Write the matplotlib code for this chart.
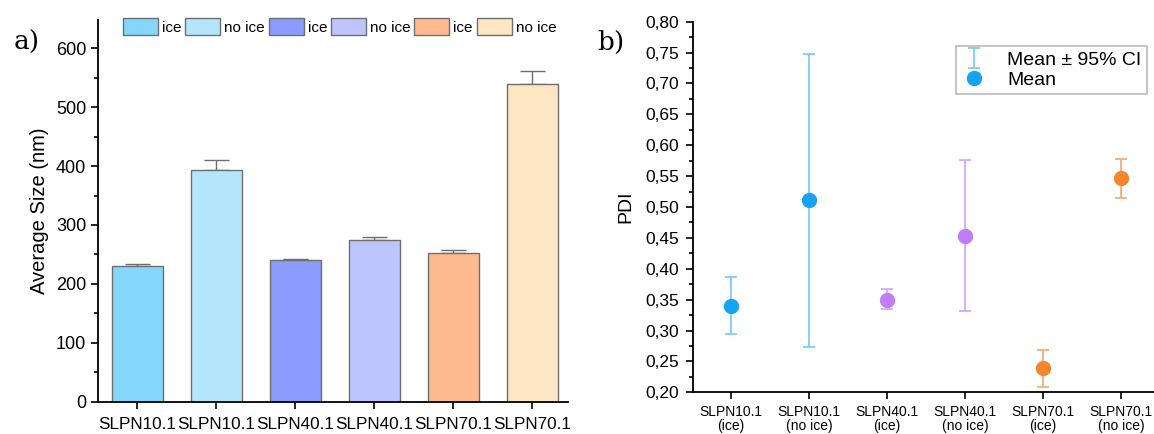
import numpy as np
import matplotlib
matplotlib.use("Agg")
import matplotlib.pyplot as plt
from matplotlib.ticker import MultipleLocator, FuncFormatter
from matplotlib.lines import Line2D
from matplotlib.patches import Patch

# --- data ---
samples = ["SLPN10.1", "SLPN10.1", "SLPN40.1", "SLPN40.1", "SLPN70.1", "SLPN70.1"]
conditions = ["ice", "no ice", "ice", "no ice", "ice", "no ice"]
size_mean = [230, 394, 241, 274, 253, 539]
size_err = [4, 16, 2, 6, 4, 23]

pdi_mean = [0.340, 0.511, 0.350, 0.453, 0.239, 0.547]
pdi_low = [0.294, 0.274, 0.335, 0.332, 0.209, 0.515]
pdi_high = [0.387, 0.748, 0.367, 0.576, 0.268, 0.578]

bar_colors = ["#84D6FD", "#B3E6FB", "#8C9BFE", "#BEC4FE", "#FDBA8F", "#FEE6C4"]
dot_colors = ["#14A4F6", "#14A4F6", "#C37CF7", "#C37CF7", "#F5862A", "#F5862A"]
err_colors = ["#7FCDF7", "#7FCDF7", "#D9A8F9", "#D9A8F9", "#F7AE78", "#F7AE78"]

plt.rcParams['font.family'] = ['Liberation Sans', 'DejaVu Sans']

fig = plt.figure(figsize=(11.54, 4.34), dpi=100)
ax1 = fig.add_axes([98 / 1154, 1 - 401.7 / 434, (568 - 98) / 1154, (401.7 - 20) / 434])
ax2 = fig.add_axes([693 / 1154, 1 - 392.3 / 434, (1154 - 693) / 1154, (392.3 - 21.7) / 434])

x = np.arange(len(samples))

# --- panel a ---
ax1.bar(x, size_mean, width=0.65, color=bar_colors, edgecolor="#6E6E6E", linewidth=1.0, zorder=2)
ax1.errorbar(x, size_mean, yerr=[np.zeros(len(x)), size_err], fmt="none",
             ecolor="#6E6E6E", elinewidth=1.0, capsize=9, capthick=1.0, zorder=1)
ax1.set_xlim(-0.5, 5.45)
ax1.set_ylim(0, 648)
ax1.yaxis.set_major_locator(MultipleLocator(100))
ax1.yaxis.set_minor_locator(MultipleLocator(50))
ax1.set_xticks(x)
ax1.set_xticklabels(samples)
ax1.set_ylabel("Average Size (nm)", fontsize=14.5, labelpad=5)
for s in ["top", "right"]:
    ax1.spines[s].set_visible(False)
for s in ["left", "bottom"]:
    ax1.spines[s].set_linewidth(1.3)
ax1.tick_params(axis="both", which="major", length=5, width=1.2, labelsize=13)
ax1.tick_params(axis="x", labelsize=12.3, pad=6)
ax1.tick_params(axis="y", which="minor", length=3, width=1.2)

handles = [Patch(facecolor=c, edgecolor="#6E6E6E", linewidth=1.0) for c in bar_colors]
ax1.legend(handles, conditions, ncol=6, loc="upper left", bbox_to_anchor=(0.04, 1.02),
           frameon=False, fontsize=11, handlelength=2.3, handleheight=1.3,
           handletextpad=0.25, columnspacing=0.25, borderaxespad=0)

fig.text(14 / 1154, 1 - 42 / 434, "a)", fontsize=19, family="DejaVu Serif", va="center")

# --- panel b ---
containers = []
for i in range(len(x)):
    c = ax2.errorbar(x[i], pdi_mean[i],
                     yerr=[[pdi_mean[i] - pdi_low[i]], [pdi_high[i] - pdi_mean[i]]],
                     fmt="none", ecolor=err_colors[i], elinewidth=1.3, capsize=4, capthick=1.3)
    containers.append(c)
    ax2.plot(x[i], pdi_mean[i], "o", color=dot_colors[i], markersize=10, zorder=3)
ax2.set_xlim(-0.49, 5.42)
ax2.set_ylim(0.20, 0.80)
ax2.yaxis.set_major_locator(MultipleLocator(0.05))
ax2.yaxis.set_minor_locator(MultipleLocator(0.025))
ax2.yaxis.set_major_formatter(FuncFormatter(lambda v, p: f"{v:.2f}".replace(".", ",")))
ax2.set_xticks(x)
ax2.set_xticklabels([f"{s}\n({c})" for s, c in zip(samples, conditions)], linespacing=1.05)
ax2.set_ylabel("PDI", fontsize=14, labelpad=8)
for s in ["top", "right"]:
    ax2.spines[s].set_visible(False)
for s in ["left", "bottom"]:
    ax2.spines[s].set_linewidth(1.3)
ax2.tick_params(axis="both", which="major", length=5, width=1.2, labelsize=12.5)
ax2.tick_params(axis="y", pad=5)
ax2.tick_params(axis="x", labelsize=10, pad=4)
ax2.tick_params(axis="y", which="minor", length=3, width=1.2)

mean_handle = Line2D([0], [0], marker="o", color="#14A4F6", markersize=10, linestyle="none")
leg = ax2.legend([containers[0], mean_handle], ["Mean \u00b1 95% CI", "Mean"], loc="upper right",
                 bbox_to_anchor=(1.005, 0.96), fontsize=14, frameon=True, fancybox=False,
                 edgecolor="#AAAAAA", handlelength=1.4, handletextpad=1.0, borderpad=0.25,
                 labelspacing=0.15)
leg.get_frame().set_linewidth(1.2)

fig.text(597 / 1154, 1 - 42 / 434, "b)", fontsize=19, family="DejaVu Serif", va="center")

fig.savefig("out.png", dpi=100)
